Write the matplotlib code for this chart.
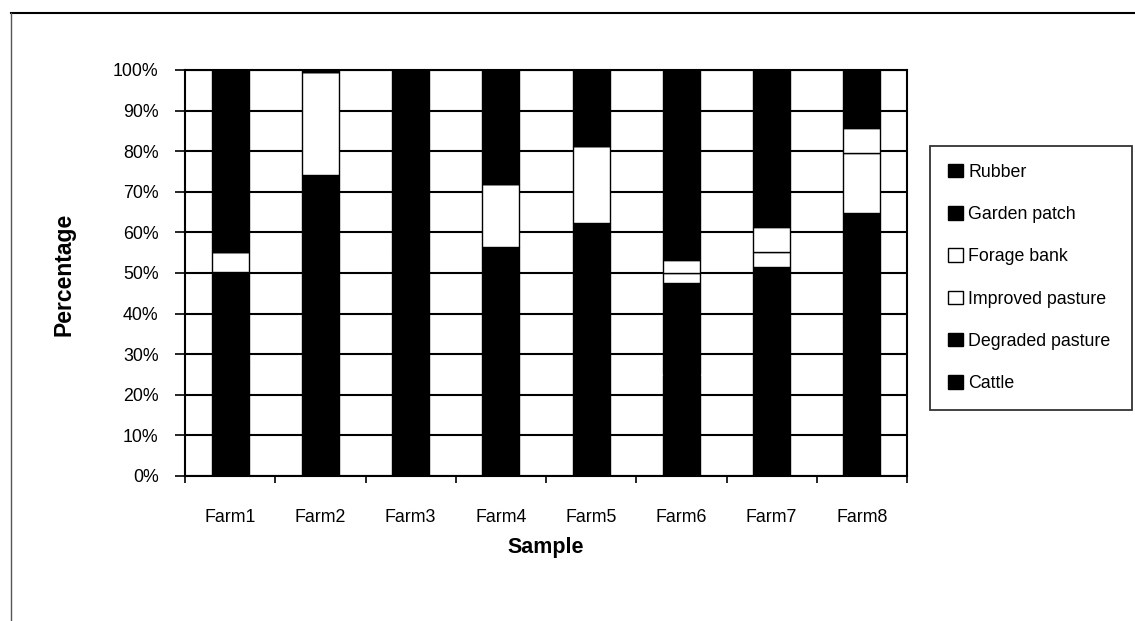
import matplotlib
matplotlib.use("Agg")
import matplotlib.pyplot as plt
import numpy as np
from matplotlib.patches import Patch
from matplotlib.lines import Line2D
from matplotlib.ticker import FixedLocator, PercentFormatter

plt.rcParams['font.family'] = ['Liberation Sans', 'DejaVu Sans']

farms = ["Farm1", "Farm2", "Farm3", "Farm4", "Farm5", "Farm6", "Farm7", "Farm8"]

# share of each land-use / activity per farm (%), bottom to top
cattle           = [28.0, 40.0, 55.0, 30.0, 35.0, 25.0, 30.0, 38.0]
degraded_pasture = [22.3, 34.1, 45.0, 26.3, 27.2, 22.5, 21.6, 26.7]
improved_pasture = [4.9, 25.4, 0.0, 15.5, 19.1, 2.6, 3.5, 14.8]
forage_bank      = [0.0, 0.0, 0.0, 0.0, 0.0, 3.1, 6.3, 6.3]
garden_patch     = [12.6, 0.5, 0.0, 8.0, 6.0, 10.0, 9.0, 5.0]
rubber           = [32.2, 0.0, 0.0, 20.2, 12.7, 36.8, 29.6, 9.2]

series = [
    ("Cattle", cattle, "black"),
    ("Degraded pasture", degraded_pasture, "black"),
    ("Improved pasture", improved_pasture, "white"),
    ("Forage bank", forage_bank, "white"),
    ("Garden patch", garden_patch, "black"),
    ("Rubber", rubber, "black"),
]

W, H = 1135, 621
fig = plt.figure(figsize=(W / 100, H / 100), dpi=100)
ax = fig.add_axes([185 / W, 1 - 476 / H, (907 - 185) / W, (476 - 70) / H])

x = np.arange(len(farms))
totals = np.sum([np.array(v) for _, v, _ in series], axis=0)
bottom = np.zeros(len(farms))
handles = []
for name, vals, color in series:
    share = np.array(vals) / totals * 100
    ax.bar(x, share, width=0.41, bottom=bottom, color=color,
           edgecolor="black", linewidth=1.0, zorder=3)
    bottom += share
    handles.append(Patch(facecolor=color, edgecolor="black", linewidth=1.0, label=name))

ax.set_xlim(-0.5, len(farms) - 0.5)
ax.set_ylim(0, 100)
ax.yaxis.set_major_locator(FixedLocator(np.arange(0, 101, 10)))
ax.yaxis.set_major_formatter(PercentFormatter(decimals=0))
ax.grid(axis="y", color="black", linewidth=1.5, zorder=0)
ax.set_axisbelow(True)

ax.set_xticks(x)
ax.set_xticklabels(farms)
ax.xaxis.set_minor_locator(FixedLocator(np.arange(-0.5, len(farms), 1.0)))
ax.tick_params(axis="x", which="major", length=0, pad=24, labelsize=12.8)
ax.tick_params(axis="x", which="minor", length=5, width=1.2, direction="out")
ax.tick_params(axis="y", length=7, width=1.2, direction="out", pad=12, labelsize=12.8)

for s in ax.spines.values():
    s.set_color("black")
    s.set_linewidth(1.5)

fig.text(64 / W, 1 - 274 / H, "Percentage", rotation=90, ha="center", va="center",
         fontsize=16.5, fontweight="bold")
fig.text(546 / W, 1 - 547 / H, "Sample", ha="center", va="center",
         fontsize=15.5, fontweight="bold")

leg = fig.legend(handles=handles[::-1], loc="upper left",
                 bbox_to_anchor=(930 / W, 1 - 146 / H, 202 / W, 0.0), mode="expand",
                 frameon=True, fancybox=False, edgecolor="black",
                 fontsize=12.8, labelspacing=1.42, handlelength=0.85,
                 handleheight=0.8, handletextpad=0.3, borderpad=1.0,
                 borderaxespad=0.0)
leg.get_frame().set_linewidth(1.3)

# outer chart frame (top and left edges)
fig.add_artist(Line2D([11 / W, 1.0], [1 - 13 / H, 1 - 13 / H], transform=fig.transFigure,
                      color="black", linewidth=1.5))
fig.add_artist(Line2D([11 / W, 11 / W], [0.0, 1 - 13 / H], transform=fig.transFigure,
                      color="#555555", linewidth=1.0))

fig.savefig("out.png", dpi=100, facecolor="white")
